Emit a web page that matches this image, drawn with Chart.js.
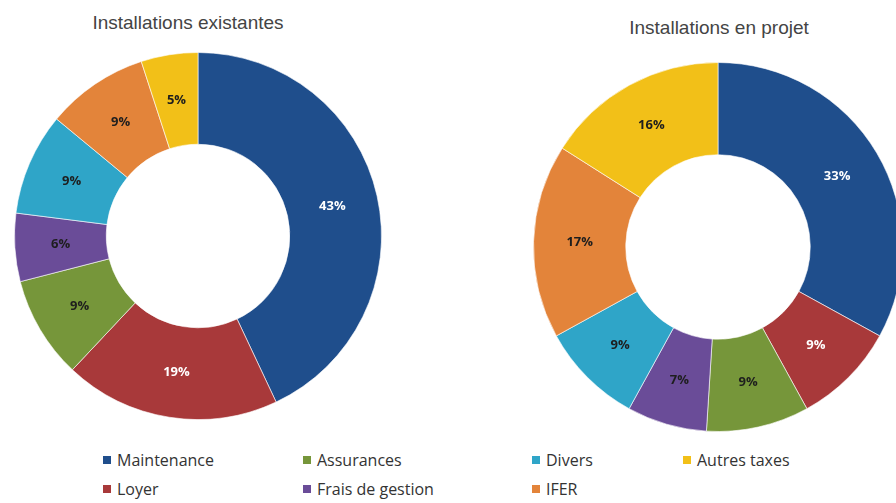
<!DOCTYPE html>
<html lang="fr">
<head>
<meta charset="utf-8">
<title>Répartition des charges</title>
<script src="https://cdn.jsdelivr.net/npm/chart.js@4/dist/chart.umd.min.js"></script>
<style>
  html, body { margin: 0; padding: 0; background: #fff; }
  body { width: 896px; height: 503px; position: relative; overflow: hidden; }
  canvas { position: absolute; }
  #chartExistantes { left: 14px; top: 52px; }
  #chartProjet { left: 533px; top: 62px; }
  .titre {
    position: absolute; font-family: "Liberation Sans", Arial, sans-serif;
    font-size: 19px; color: #444; white-space: nowrap; transform: translateX(-50%);
  }
  .legende {
    position: absolute; font-family: "Open Sans", sans-serif; font-size: 16px;
    color: #333; white-space: nowrap; line-height: 18px;
  }
  .legende span {
    display: inline-block; width: 8px; height: 8px; margin-right: 6px; vertical-align: 2px;
  }
</style>
</head>
<body>
<div class="titre" style="left:188px; top:12px;">Installations existantes</div>
<div class="titre" style="left:719px; top:17px;">Installations en projet</div>
<canvas id="chartExistantes" width="368" height="368"></canvas>
<canvas id="chartProjet" width="370" height="370"></canvas>
<div id="legende"></div>
<script>
// Postes de charges (même ordre pour les deux graphiques)
const postes = ['Maintenance', 'Loyer', 'Assurances', 'Frais de gestion', 'Divers', 'IFER', 'Autres taxes'];

// Parts en %
const existantes = [43, 19, 9, 6, 9, 9, 5];
const enProjet = [33, 9, 9, 7, 9, 17, 16];

// Couleurs des postes et de leurs étiquettes
const couleurs = ['#1f4e8c', '#a8393a', '#76963a', '#6a4c98', '#2fa5c8', '#e3843a', '#f2c018'];
const couleursTexte = ['#ffffff', '#ffffff', '#1e1e1e', '#1e1e1e', '#1e1e1e', '#1e1e1e', '#1e1e1e'];

// Pourcentage écrit au milieu de chaque part
const etiquettes = {
    id: 'etiquettes',
    afterDatasetsDraw(chart) {
        const ctx = chart.ctx;
        const valeurs = chart.data.datasets[0].data;
        ctx.save();
        ctx.font = 'bold 13px "Open Sans", sans-serif';
        ctx.textAlign = 'center';
        ctx.textBaseline = 'middle';
        chart.getDatasetMeta(0).data.forEach((arc, i) => {
            const p = arc.tooltipPosition();
            ctx.fillStyle = couleursTexte[i];
            ctx.fillText(valeurs[i] + '%', p.x, p.y);
        });
        ctx.restore();
    }
};

function createDoughnut(id, valeurs) {
    return new Chart(document.getElementById(id), {
        type: 'doughnut',
        data: {
            labels: postes,
            datasets: [{
                data: valeurs,
                backgroundColor: couleurs,
                borderColor: 'rgba(255,255,255,0.6)',
                borderWidth: 1
            }]
        },
        options: {
            responsive: false,
            animation: false,
            cutout: '50%',
            layout: { padding: 0 },
            plugins: {
                legend: { display: false },
                tooltip: { enabled: false }
            }
        },
        plugins: [etiquettes]
    });
}

createDoughnut('chartExistantes', existantes);
createDoughnut('chartProjet', enProjet);

// Légende commune, en colonnes de deux lignes
const colonnesX = [103, 303, 532, 683];
const lignesY = [451, 480];
const legende = document.getElementById('legende');
postes.forEach((nom, i) => {
    const item = document.createElement('div');
    item.className = 'legende';
    item.style.left = colonnesX[Math.floor(i / 2)] + 'px';
    item.style.top = lignesY[i % 2] + 'px';
    const carre = document.createElement('span');
    carre.style.background = couleurs[i];
    item.appendChild(carre);
    item.appendChild(document.createTextNode(nom));
    legende.appendChild(item);
});
</script>
</body>
</html>
